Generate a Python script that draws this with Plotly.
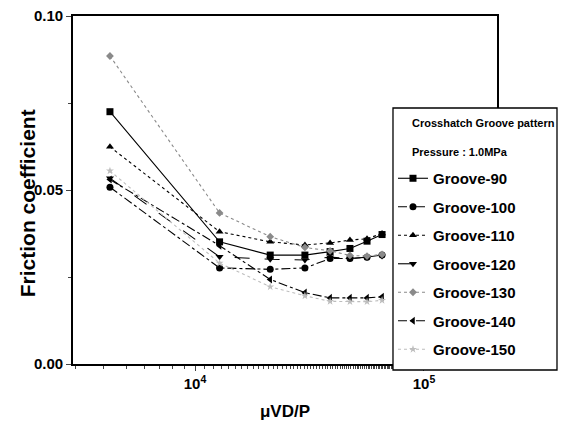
import plotly.graph_objects as go

# Data
x_vals = [4.25e3, 1.28e4, 2.13e4, 3.02e4, 3.89e4, 4.75e4, 5.64e4, 6.56e4]
series_names = ["Groove-90", "Groove-100", "Groove-110", "Groove-120",
                "Groove-130", "Groove-140", "Groove-150"]
groove_90 = [0.0725, 0.0351, 0.0313, 0.0313, 0.0323, 0.0332, 0.0353, 0.0372]
groove_100 = [0.0508, 0.0276, 0.0272, 0.0276, 0.0303, 0.0303, 0.0307, 0.0313]
groove_110 = [0.0624, 0.0380, 0.0351, 0.0342, 0.0348, 0.0356, 0.0360, 0.0375]
groove_120 = [0.0534, 0.0308, 0.0301, 0.0299, 0.0307, 0.0303, 0.0307, 0.0310]
groove_130 = [0.0885, 0.0434, 0.0366, 0.0335, 0.0325, 0.0312, 0.0310, 0.0315]
groove_140 = [0.0530, 0.0340, 0.0243, 0.0205, 0.0190, 0.0190, 0.0190, 0.0193]
groove_150 = [0.0555, 0.0290, 0.0222, 0.0196, 0.0180, 0.0179, 0.0179, 0.0183]
y_series = [groove_90, groove_100, groove_110, groove_120, groove_130, groove_140, groove_150]

y_tickvals = [0.0, 0.05, 0.10]
y_ticktext = ["<b>0.00</b>", "<b>0.05</b>", "<b>0.10</b>"]
x_tickvals = [1e4, 1e5]
x_ticktext = ["<b>10<sup>4</sup></b>", "<b>10<sup>5</sup></b>"]
legend_header = ["Crosshatch Groove pattern", "Pressure : 1.0MPa"]

styles = [
    dict(color="black", dash="solid", symbol="square", msize=7),
    dict(color="black", dash="dashdot", symbol="circle", msize=7),
    dict(color="black", dash="dot", symbol="triangle-up", msize=7),
    dict(color="black", dash="longdash", symbol="triangle-down", msize=7),
    dict(color="#8a8a8a", dash="dot", symbol="diamond", msize=6),
    dict(color="black", dash="dashdot", symbol="triangle-left", msize=7),
    dict(color="#bdbdbd", dash="dot", symbol="star", msize=6),
]

FONT = "Liberation Sans, Arial, sans-serif"

fig = go.Figure()
for i, (name, ys) in enumerate(zip(series_names, y_series)):
    s = styles[i]
    fig.add_trace(go.Scatter(
        x=x_vals, y=ys, name=name, mode="lines+markers",
        legendgroup=name,
        line=dict(color=s["color"], dash=s["dash"], width=1.1),
        marker=dict(symbol=s["symbol"], size=s["msize"], color=s["color"]),
    ))

fig.add_annotation(
    text="<b>Friction coefficient</b>", textangle=-90,
    xref="paper", yref="paper", x=-0.108, y=0.4626,
    xanchor="center", yanchor="middle", showarrow=False,
    font=dict(size=21, family=FONT, color="black"),
)

# legend frame (a box that extends past the plot frame like the original)
fig.add_shape(
    type="rect", xref="paper", yref="paper",
    x0=0.7547, x1=1.1415, y0=-0.0172, y1=0.7356,
    line=dict(color="black", width=1.3), fillcolor="white", layer="above",
)
for txt, yy in zip(legend_header, [0.6925, 0.609]):
    fig.add_annotation(
        text="<b>" + txt + "</b>", xref="paper", yref="paper",
        x=0.7948, y=yy, xanchor="left", yanchor="middle", showarrow=False,
        font=dict(size=11, family=FONT, color="black"),
    )

fig.update_layout(
    width=558, height=420,
    margin=dict(l=65, r=69, t=8, b=64, pad=0),
    paper_bgcolor="white", plot_bgcolor="white",
    font=dict(family=FONT, color="black"),
    showlegend=True,
    legend=dict(
        x=0.7547, y=0.5804, xanchor="left", yanchor="top",
        bgcolor="rgba(0,0,0,0)", borderwidth=0,
        font=dict(size=15, family=FONT, color="black", weight="bold"),
        tracegroupgap=6,
        itemwidth=30,
    ),
    xaxis=dict(
        type="log", range=[3.467, 5.319], automargin=False,
        tickvals=x_tickvals, ticktext=x_ticktext, ticklabeloverflow="allow",
        ticks="outside", ticklen=5, tickwidth=1.2,
        minor=dict(ticks="outside", ticklen=3, tickwidth=1, showgrid=False),
        showline=True, linecolor="black", linewidth=1.8, mirror=True,
        showgrid=False, zeroline=False,
        tickfont=dict(size=15, family=FONT, weight="bold"),
        title=dict(text="<b>μVD/P</b>", font=dict(size=17, family=FONT), standoff=14),
    ),
    yaxis=dict(
        range=[0, 0.10], automargin=False,
        tickvals=y_tickvals, ticktext=y_ticktext, ticklabeloverflow="allow",
        ticks="outside", ticklen=5, tickwidth=1.2,
        minor=dict(ticks="outside", ticklen=3, dtick=0.025, tick0=0, showgrid=False),
        showline=True, linecolor="black", linewidth=1.8, mirror=True,
        showgrid=False, zeroline=False,
        tickfont=dict(size=15, family=FONT, weight="bold"),
    ),
)

fig.write_html("out.html")
